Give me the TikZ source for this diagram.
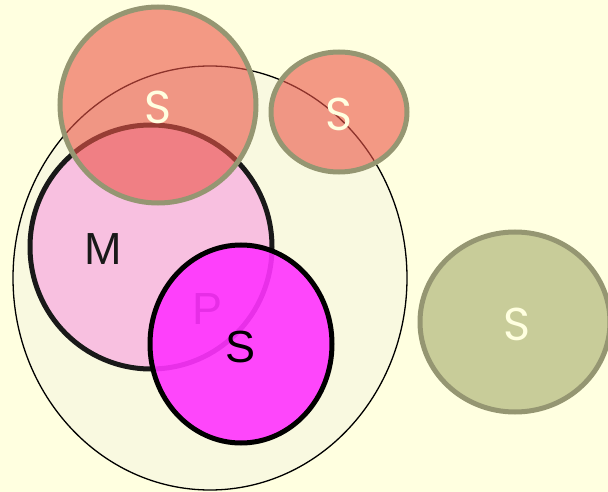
\documentclass[tikz,border=0pt]{standalone}
\usepackage{fontspec}
\setmainfont{Liberation Sans}
\newfontfamily\roundfont{Poppins}
\usetikzlibrary{shapes.geometric}
\definecolor{bgc}{HTML}{FFFFE0}
\definecolor{bigfill}{HTML}{F9F9E0}
\definecolor{pinkfill}{HTML}{F8C0E0}
\definecolor{magfill}{HTML}{FF33FF}
\definecolor{salmon}{RGB}{235,85,72}
\definecolor{olivefill}{HTML}{C8CC99}
\definecolor{olivedraw}{HTML}{959672}
\definecolor{lighttext}{HTML}{FFFFE0}
\tikzset{
  blob/.style={ellipse, inner sep=0pt, outer sep=0pt},
  bigset/.style={blob, draw=black, line width=1.3pt, fill=bigfill},
  mset/.style={blob, draw=black!90, line width=5pt, fill=pinkfill},
  magset/.style={blob, draw=black, line width=5pt, fill=magfill, fill opacity=0.9, draw opacity=1},
  salset/.style={blob, draw=olivedraw, line width=5pt, fill=salmon, fill opacity=0.6, draw opacity=1},
  oliveset/.style={blob, draw=olivedraw, line width=5pt, fill=olivefill},
  darklabel/.style={font=\fontsize{45}{45}\selectfont, text=black!90},
  lightlabel/.style={font=\roundfont\fontsize{46}{46}\selectfont, text=lighttext, text opacity=1}
}
\begin{document}
\begin{tikzpicture}[x=1pt,y=-1pt]
\fill[bgc] (0,0) rectangle (608,492);
\useasboundingbox (0,0) rectangle (608,492);
\node[bigset, minimum width=394pt, minimum height=424pt] (big) at (210,278) {};
\node[mset, minimum width=242pt, minimum height=244pt] (m) at (151,247) {};
\node[darklabel] (mlab) at (103,249) {M};
\node[darklabel, text=black] (plab) at (208,309) {P};
\node[magset, minimum width=182pt, minimum height=198pt] (mag) at (241,344) {};
\node[darklabel, text=black] (slab) at (241,347) {S};
\node[salset, minimum width=196pt, minimum height=196pt] (s1) at (158,105) {};
\node[lightlabel] (s1lab) at (158,107) {S};
\node[salset, minimum width=136pt, minimum height=120pt] (s2) at (339,112) {};
\node[lightlabel] (s2lab) at (339,114) {S};
\node[oliveset, minimum width=190pt, minimum height=180pt] (s3) at (515,322) {};
\node[lightlabel] (s3lab) at (517,324) {S};
\end{tikzpicture}
\end{document}
